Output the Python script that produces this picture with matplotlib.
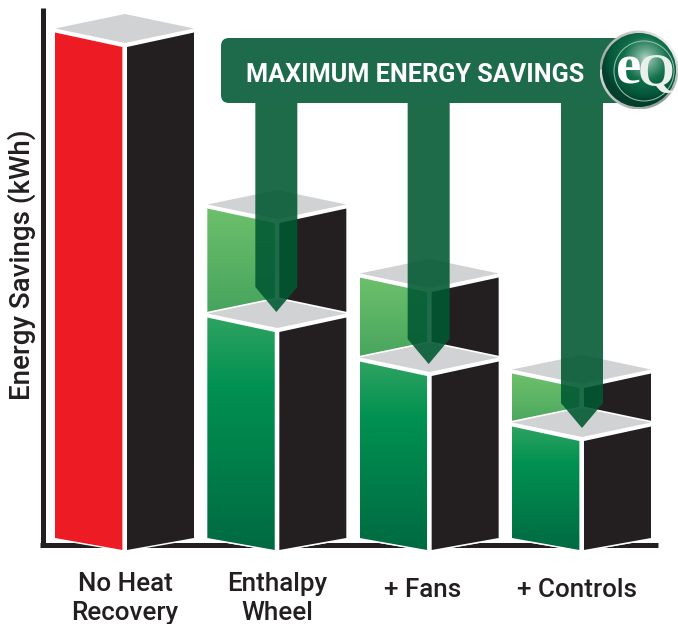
import numpy as np
import matplotlib
matplotlib.use("Agg")
import matplotlib.pyplot as plt
from matplotlib.colors import LinearSegmentedColormap
from matplotlib.patches import Polygon, Circle, FancyBboxPatch, Arc
from matplotlib.transforms import Affine2D

# ---- data (arbitrary kWh units) ----
categories = ["No Heat\nRecovery", "Enthalpy\nWheel", "+ Fans", "+ Controls"]
total_values = [503, 327, 258, 162]
recovered_values = [None, 218, 174, 109]
arrow_tip_values = [None, 238, 186, 122]
axis_label = "Energy Savings (kWh)"
banner_label = "MAXIMUM ENERGY SAVINGS"

# ---- styles ----
RED = "#ed1c24"
DARK = "#231f20"
GREY = "#d0d2d3"
BANNER = "#1d6b4a"
ARROW = "#015833"
W, H = 678, 624
PX = 1 / 152.33          # one pixel in category units
X0 = -125 * PX
HW_L, HW_R = 70 * PX, 69 * PX
GAP_L, GAP_R = 2.6 * PX, 2 * PX
SLOPE, RISE_B = 14.5, 12

upper_cm = LinearSegmentedColormap.from_list("u", ["#6dc06b", "#3f9f5b"])
lower_cm = LinearSegmentedColormap.from_list(
    "l", [(0, "#2fa361"), (0.3, "#009151"), (1, "#006a42")])

plt.rcParams["font.family"] = ["Roboto", "DejaVu Sans"]
fig = plt.figure(figsize=(W / 100, H / 100), dpi=100, facecolor="white")
ax = fig.add_axes([0, 0, 1, 1])
ax.set_facecolor("none")
XLIM = (X0, X0 + W * PX)
YLIM = (-74, 550)
# annotation layer positioned in image pixels (y down)
px_tf = Affine2D().scale(1, -1).translate(0, H)


def block(c, v, z, fill=None, ramp=None):
    """One 3D column: value v is the height of its front top corner."""
    xl, xr = c - HW_L, c + HW_R
    backing = [(xl, RISE_B), (c, 0), (xr, RISE_B), (xr, v + 18.5), (c, v + 33), (xl, v + 18.5)]
    ax.add_patch(Polygon(backing, fc="white", ec="white", lw=2.4, joinstyle="miter", zorder=z))
    left = Polygon([(xl, RISE_B), (c - GAP_L, 0), (c - GAP_L, v), (xl, v + SLOPE)],
                   fc=fill or "none", ec="none", zorder=z + 0.1)
    ax.add_patch(left)
    if ramp is not None:
        cmap, start, bottom = ramp
        g = np.linspace(0, 1, 256).reshape(-1, 1)
        im = ax.imshow(g, cmap=cmap, aspect="auto", vmin=0, vmax=1,
                       extent=[xl, c, bottom, v + SLOPE], origin="upper", zorder=z + 0.1)
        im.set_clip_path(left)
    ax.add_patch(Polygon([(c + GAP_R, 0), (xr, RISE_B), (xr, v + SLOPE), (c + GAP_R, v)],
                         fc=DARK, ec="none", zorder=z + 0.1))
    ax.add_patch(Polygon([(xl, v + 18.5), (c, v + 33), (xr, v + 18.5), (c, v + 4)],
                         fc=GREY, ec="none", zorder=z + 0.2))


for i, total in enumerate(total_values):
    low = recovered_values[i]
    if low is None:
        block(i, total, 3, fill=RED)
    else:
        block(i, total, 3, ramp=(upper_cm, total, low))
        block(i, low, 4, ramp=(lower_cm, low, 0))

# arrows from the banner to each recovered level
STEM_HW = 21 * PX
BANNER_BOTTOM = 550 - 103
for i, tip in enumerate(arrow_tip_values):
    if tip is None:
        continue
    c = i if i == 3 else i - 1 * PX
    ax.add_patch(Polygon([(c - STEM_HW, BANNER_BOTTOM), (c + STEM_HW, BANNER_BOTTOM),
                          (c + STEM_HW, tip + 25), (c, tip), (c - STEM_HW, tip + 25)],
                         fc=ARROW, ec="none", alpha=0.885, zorder=6))

# banner
ax.add_patch(FancyBboxPatch((229, 46), 402, 49, boxstyle="round,pad=8,rounding_size=8",
                            fc=BANNER, ec="none", zorder=7, transform=px_tf))
ax.text(415.5, 75, banner_label, transform=px_tf, color="white", fontsize=18.2,
        fontweight="bold", ha="center", va="center", zorder=8)

# eQ badge
cx, cy, r = 639, 70, 39.5
yy, xx = np.mgrid[-1:1:300j, -1:1:300j]
dist = np.hypot(xx - 0.15, yy - 0.28)
ang = (np.arctan2(yy, xx) + np.pi) / (2 * np.pi)
logo_cm = LinearSegmentedColormap.from_list(
    "g", [(0, "#b3d3c3"), (0.2, "#6aa88c"), (0.5, "#11704a"), (0.85, "#04553a"), (1, "#033f2c")])
ring_cm = LinearSegmentedColormap.from_list(
    "r", [(0, "#d8dcda"), (0.35, "#8f9a95"), (0.6, "#f2f2f2"), (1, "#9aa09d")])
badge_tf = Affine2D().scale(2 * r, 2 * r).translate(cx - r, cy - r) + px_tf
ring = ax.imshow(ang, cmap=ring_cm, extent=[0, 1, 0, 1], transform=badge_tf, zorder=9, aspect="auto")
ring.set_clip_path(Circle((cx, cy), r, transform=px_tf))
inner = ax.imshow(dist, cmap=logo_cm, vmin=0, vmax=1.1, extent=[0, 1, 0, 1],
                  transform=badge_tf, zorder=9.1, aspect="auto")
inner.set_clip_path(Circle((cx, cy), r - 2.5, transform=px_tf))
ax.add_patch(Arc((cx + 5, cy + 1), 60, 60, transform=px_tf, color="#9cc4b0", lw=0.7, zorder=9.2))
ax.text(629, 70, "e", transform=px_tf, family="Liberation Serif", fontweight="bold", color="white",
        fontsize=41, ha="center", va="center", zorder=9.5)
ax.text(656, 75, "Q", transform=px_tf, family="Liberation Serif", fontweight="bold", color="#e9efec",
        fontsize=34, ha="center", va="center", zorder=9.5)

# axes
ax.set_xlim(XLIM)
ax.set_ylim(YLIM)
for s in ("top", "right"):
    ax.spines[s].set_visible(False)
for s in ("left", "bottom"):
    ax.spines[s].set_linewidth(3.6)
    ax.spines[s].set_color(DARK)
    ax.spines[s].set_capstyle("butt")
ax.spines["left"].set_position(("data", X0 + 42.5 * PX))
ax.spines["left"].set_bounds(3, 542)
ax.spines["bottom"].set_position(("data", 5.5))
ax.spines["bottom"].set_bounds(X0 + 40 * PX, X0 + 658 * PX)
ax.set_yticks([])
ax.set_xticks([0, 1], categories[:2])
ax.set_xticks([2 - 7 * PX, 3 - 5 * PX], categories[2:], minor=True)
ax.tick_params(axis="x", which="both", length=0, labelsize=18.7, labelcolor=DARK)
ax.tick_params(axis="x", which="major", pad=20)
ax.tick_params(axis="x", which="minor", pad=24)
for t in ax.get_xticklabels(which="both"):
    t.set_fontweight(500)
    t.set_linespacing(1.25)
ax.set_ylabel(axis_label, fontsize=20, fontweight=500, color=DARK)
ax.yaxis.set_label_coords(36 / W, 1 - 265 / H)

fig.savefig("out.png", dpi=100, facecolor="white")
